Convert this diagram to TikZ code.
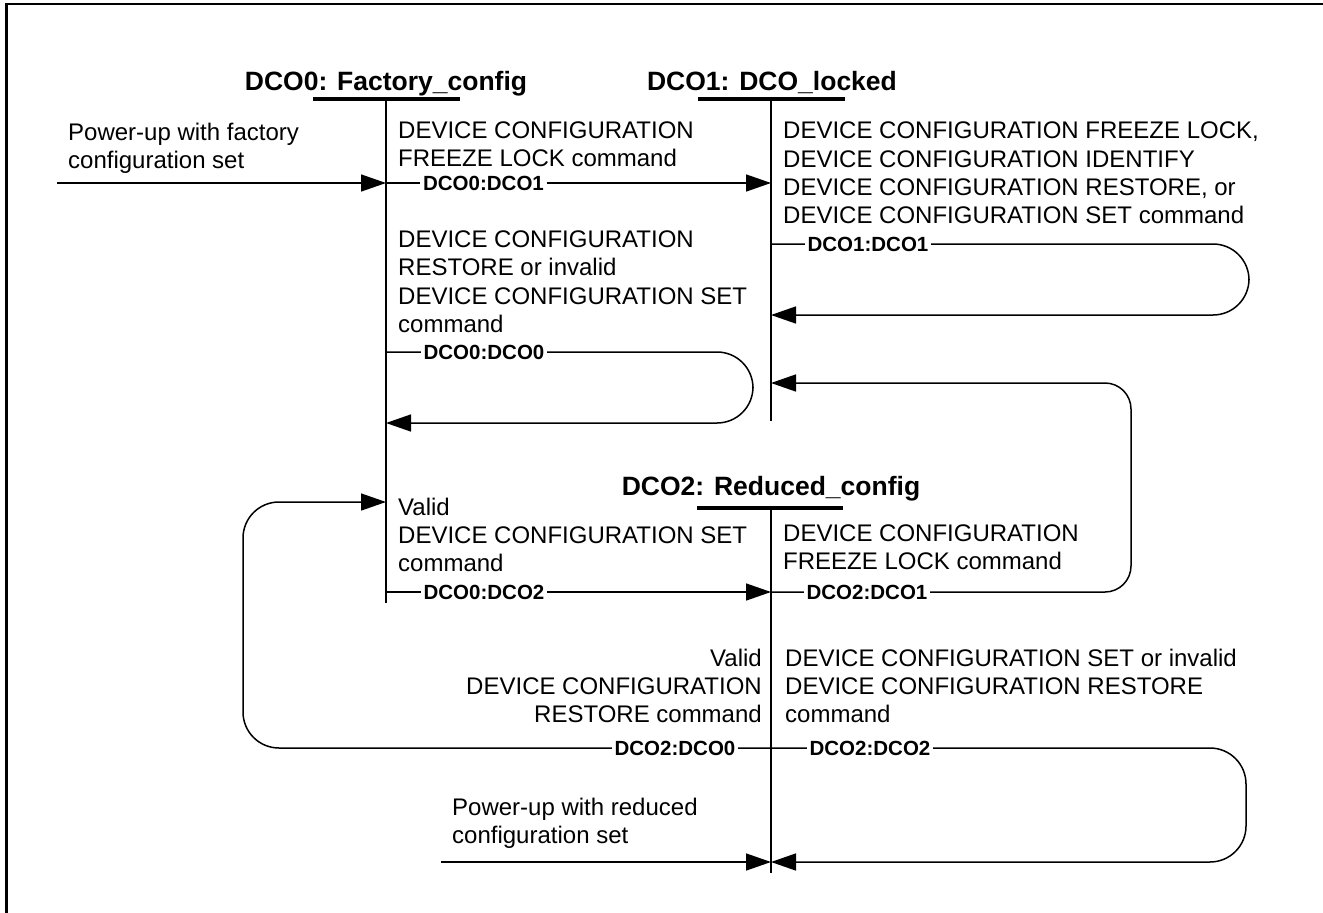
\documentclass[tikz,border=0pt]{standalone}
\usepackage{fontspec}
\setmainfont{Liberation Sans}
\usetikzlibrary{arrows.meta}
\begin{document}
\begin{tikzpicture}[x=1pt,y=-1pt,
  txt/.style={font=\fontsize{24}{28.3}\selectfont, inner sep=0pt, align=left, anchor=north west},
  txtr/.style={txt, align=right, anchor=north east},
  ttl/.style={font=\bfseries\fontsize{26.5}{30}\selectfont, inner sep=0pt, anchor=base},
  lbl/.style={font=\bfseries\fontsize{20.5}{22}\selectfont, fill=white, inner xsep=3pt, inner ysep=1pt},
  bar/.style={line width=4pt},
  life/.style={line width=1.5pt},
  msg/.style={line width=1.5pt, -{Triangle[length=25pt,width=17pt]}},
  plain/.style={line width=1.5pt},
  msgloop/.style={msg, rounded corners=36pt},
  frame/.style={line width=2.5pt}]
\useasboundingbox (0,0) rectangle (1323,913);
% frame (top and left edges)
\coordinate (fbl) at (6.5,913);
\coordinate (ftl) at (6.5,4);
\coordinate (ftr) at (1323,4);
\draw[frame] (fbl) -- (ftl) -- (ftr);

% titles
\node[ttl] (t0) at (386,90) {DCO0: Factory\_config};
\node[ttl] (t1) at (772,90) {DCO1: DCO\_locked};
\node[ttl] (t2) at (771,495) {DCO2: Reduced\_config};

% bars and lifelines
\coordinate (b0l) at (313,99);  \coordinate (b0r) at (460,99);
\coordinate (b1l) at (698,99);  \coordinate (b1r) at (845,99);
\coordinate (b2l) at (697,508); \coordinate (b2r) at (843,508);
\draw[bar] (b0l) -- (b0r);
\draw[bar] (b1l) -- (b1r);
\draw[bar] (b2l) -- (b2r);
\coordinate (l0t) at (386,99);  \coordinate (l0b) at (386,603);
\coordinate (l1t) at (771,99);  \coordinate (l1b) at (771,421);
\coordinate (l2t) at (771,508); \coordinate (l2b) at (771,873);
\draw[life] (l0t) -- (l0b);
\draw[life] (l1t) -- (l1b);
\draw[life] (l2t) -- (l2b);

% texts
\node[txt] (tA) at (68,122.7) {Power-up with factory\\configuration set};
\node[txt] (tB) at (398,121.2) {DEVICE CONFIGURATION\\FREEZE LOCK command};
\node[txt] (tC) at (783,122) {DEVICE CONFIGURATION FREEZE LOCK,\\DEVICE CONFIGURATION IDENTIFY\\DEVICE CONFIGURATION RESTORE, or\\DEVICE CONFIGURATION SET command};
\node[txt] (tD) at (398,230.7) {DEVICE CONFIGURATION\\RESTORE or invalid\\DEVICE CONFIGURATION SET\\command};
\node[txt] (tE) at (398,497.7) {Valid\\DEVICE CONFIGURATION SET\\command};
\node[txt] (tF) at (783,524.7) {DEVICE CONFIGURATION\\FREEZE LOCK command};
\node[txtr] (tG) at (762,648.7) {Valid\\DEVICE CONFIGURATION\\RESTORE command};
\node[txt] (tH) at (785,648.7) {DEVICE CONFIGURATION SET or invalid\\DEVICE CONFIGURATION RESTORE\\command};
\node[txt] (tI) at (452,797.7) {Power-up with reduced\\configuration set};

% power-up with factory configuration
\coordinate (pf) at (57,183);
\coordinate (p0a) at (386,183);
\draw[msg] (pf) -- (p0a);

% DCO0:DCO1
\coordinate (p1a) at (771,183);
\draw[msg] (p0a) -- (p1a);
\node[lbl] (n01) at (483.5,183) {DCO0:DCO1};

% DCO0:DCO0 loop
\coordinate (p00s) at (386,352);
\coordinate (p00r1) at (753,352);
\coordinate (p00r2) at (753,423);
\coordinate (p00e) at (386,423);
\draw[msgloop] (p00s) -- (p00r1) -- (p00r2) -- (p00e);
\node[lbl] (n00) at (484,352) {DCO0:DCO0};

% DCO1:DCO1 loop
\coordinate (p11s) at (771,244);
\coordinate (p11r1) at (1249,244);
\coordinate (p11r2) at (1249,315);
\coordinate (p11e) at (771,315);
\draw[msgloop] (p11s) -- (p11r1) -- (p11r2) -- (p11e);
\node[lbl] (n11) at (868,244) {DCO1:DCO1};

% DCO0:DCO2
\coordinate (p02s) at (386,592);
\coordinate (p02e) at (771,592);
\draw[msg] (p02s) -- (p02e);
\node[lbl] (n02) at (484,592) {DCO0:DCO2};

% DCO2:DCO1
\coordinate (p21r1) at (1131,592);
\coordinate (p21r2) at (1131,383);
\coordinate (p21e) at (771,383);
\draw[msg, rounded corners=26pt] (p02e) -- (p21r1) -- (p21r2) -- (p21e);
\node[lbl] (n21) at (867,592) {DCO2:DCO1};

% DCO2:DCO0
\coordinate (p20s) at (771,748);
\coordinate (p20l1) at (243,748);
\coordinate (p20l2) at (243,502);
\coordinate (p20e) at (386,502);
\draw[msgloop] (p20s) -- (p20l1) -- (p20l2) -- (p20e);
\node[lbl] (n20) at (675,748) {DCO2:DCO0};

% DCO2:DCO2 loop
\coordinate (p22r1) at (1246,748);
\coordinate (p22r2) at (1246,862);
\coordinate (p22e) at (771,862);
\draw[msgloop] (p20s) -- (p22r1) -- (p22r2) -- (p22e);
\node[lbl] (n22) at (870,748) {DCO2:DCO2};

% power-up with reduced configuration
\coordinate (pr) at (441,862);
\draw[msg] (pr) -- (p22e);
\end{tikzpicture}
\end{document}
